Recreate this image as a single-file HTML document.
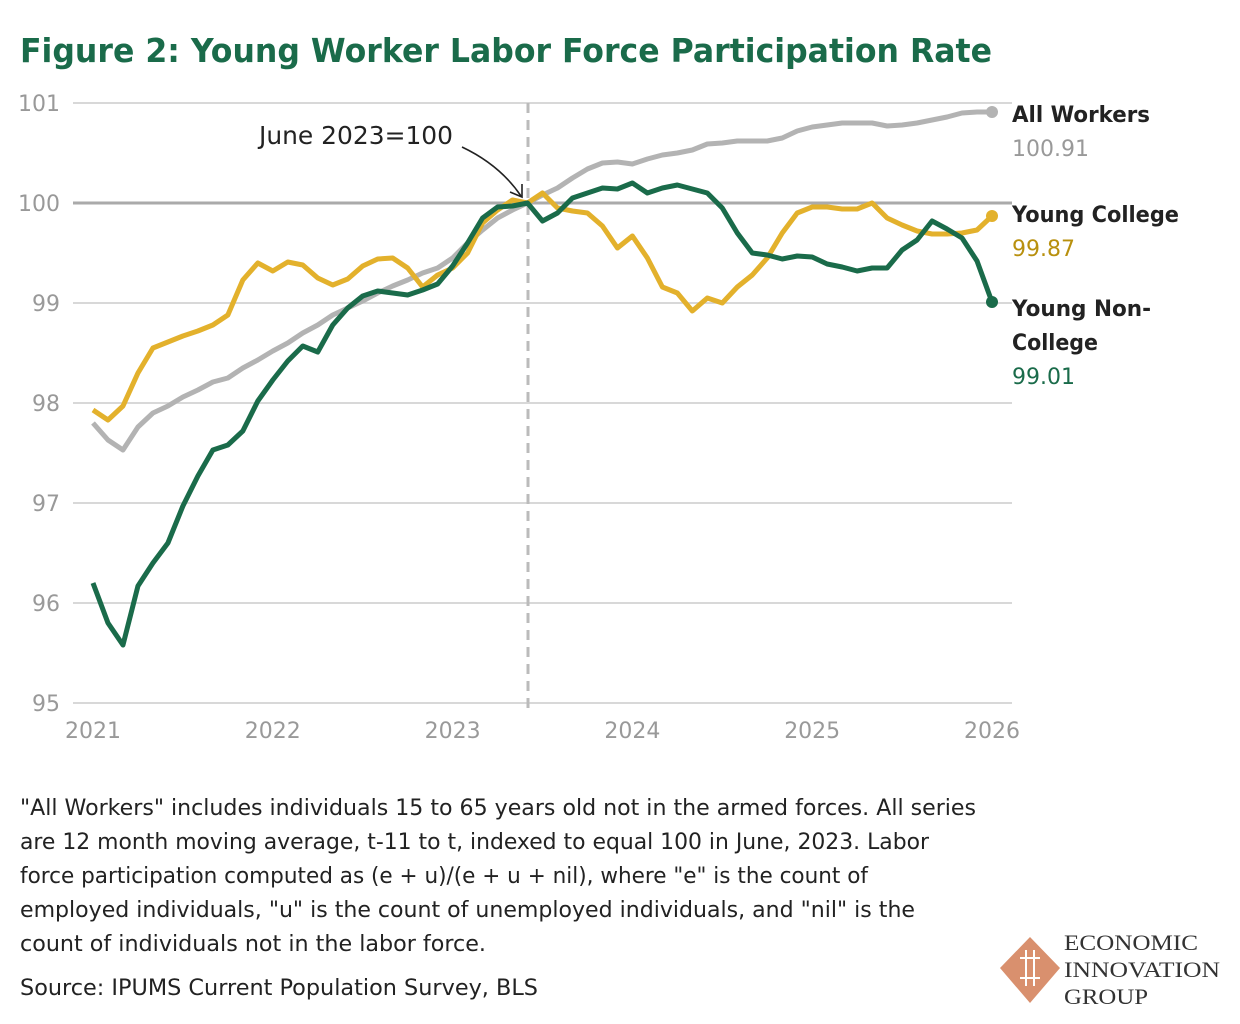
<!DOCTYPE html>
<html><head><meta charset="utf-8"><style>
body{margin:0;background:#fff}
svg{display:block;font-family:"DejaVu Sans","Liberation Sans",sans-serif}
</style></head><body>
<svg id="chart" width="1240" height="1024" viewBox="0 0 1240 1024" xmlns="http://www.w3.org/2000/svg">
<text x="20" y="62" font-size="33" font-weight="bold" fill="#1a6b4a" textLength="972" lengthAdjust="spacingAndGlyphs">Figure 2: Young Worker Labor Force Participation Rate</text>
<g id="grid"></g>
<g id="yticks"></g>
<g id="xticks"></g>
<line x1="528" y1="103" x2="528" y2="708" stroke="#bbb" stroke-width="3" stroke-dasharray="10,7"/>
<g id="series"></g>
<text x="259" y="144" font-size="25" fill="#222" textLength="194" lengthAdjust="spacingAndGlyphs">June 2023=100</text>
<path d="M462 147 Q500 165 521 196" fill="none" stroke="#222" stroke-width="1.6"/>
<path d="M510 192 L522 197 L522 184" fill="none" stroke="#222" stroke-width="1.6"/>
<g font-size="22">
<text x="1012" y="122" font-weight="bold" fill="#222" textLength="138" lengthAdjust="spacingAndGlyphs">All Workers</text>
<text x="1012" y="156" fill="#999">100.91</text>
<text x="1012" y="222" font-weight="bold" fill="#222" textLength="167" lengthAdjust="spacingAndGlyphs">Young College</text>
<text x="1012" y="256" fill="#b8900e">99.87</text>
<text x="1012" y="316" font-weight="bold" fill="#222" textLength="139" lengthAdjust="spacingAndGlyphs">Young Non-</text>
<text x="1012" y="350" font-weight="bold" fill="#222" textLength="86" lengthAdjust="spacingAndGlyphs">College</text>
<text x="1012" y="384" fill="#1a6b4a">99.01</text>
</g>
<g font-size="22" fill="#222">
<text x="20" y="815" textLength="956" lengthAdjust="spacingAndGlyphs">"All Workers" includes individuals 15 to 65 years old not in the armed forces. All series</text>
<text x="20" y="849" textLength="909" lengthAdjust="spacingAndGlyphs">are 12 month moving average, t-11 to t, indexed to equal 100 in June, 2023. Labor</text>
<text x="20" y="883" textLength="848" lengthAdjust="spacingAndGlyphs">force participation computed as (e + u)/(e + u + nil), where "e" is the count of</text>
<text x="20" y="917" textLength="895" lengthAdjust="spacingAndGlyphs">employed individuals, "u" is the count of unemployed individuals, and "nil" is the</text>
<text x="20" y="951" textLength="466" lengthAdjust="spacingAndGlyphs">count of individuals not in the labor force.</text>
<text x="20" y="995" textLength="518" lengthAdjust="spacingAndGlyphs">Source: IPUMS Current Population Survey, BLS</text>
</g>
<g>
<path d="M1030 937 L1060 968 L1030 1003 L1000 968 Z" fill="#d9906e"/>
<path d="M1020 958 L1040 958 M1020 978 L1040 978 M1026 950 L1026 986 M1034 950 L1034 986" stroke="#fff" stroke-width="2" fill="none"/>
<g font-family="'Liberation Serif',serif" font-size="22" fill="#333">
<text x="1064" y="950" textLength="134" lengthAdjust="spacingAndGlyphs">ECONOMIC</text>
<text x="1064" y="977" textLength="156" lengthAdjust="spacingAndGlyphs">INNOVATION</text>
<text x="1064" y="1004" textLength="84" lengthAdjust="spacingAndGlyphs">GROUP</text>
</g></g>
<script>
const yTicks=[95,96,97,98,99,100,101];
const xTickLabels=["2021","2022","2023","2024","2025","2026"];
const allWorkers=[97.8,97.63,97.53,97.76,97.9,97.97,98.06,98.13,98.21,98.25,98.35,98.43,98.52,98.6,98.7,98.78,98.88,98.95,99.02,99.1,99.17,99.23,99.3,99.35,99.45,99.6,99.73,99.85,99.93,100.0,100.08,100.15,100.25,100.34,100.4,100.41,100.39,100.44,100.48,100.5,100.53,100.59,100.6,100.62,100.62,100.62,100.65,100.72,100.76,100.78,100.8,100.8,100.8,100.77,100.78,100.8,100.83,100.86,100.9,100.91,100.91];
const youngCollege=[97.93,97.83,97.97,98.3,98.55,98.61,98.67,98.72,98.78,98.88,99.23,99.4,99.32,99.41,99.38,99.25,99.18,99.24,99.37,99.44,99.45,99.35,99.16,99.28,99.35,99.5,99.8,99.93,100.03,100.0,100.1,99.95,99.92,99.9,99.77,99.55,99.67,99.45,99.16,99.1,98.92,99.05,99.0,99.16,99.28,99.45,99.7,99.9,99.96,99.96,99.94,99.94,100.0,99.85,99.78,99.72,99.69,99.69,99.7,99.73,99.87];
const youngNonCollege=[96.2,95.8,95.58,96.17,96.4,96.6,96.97,97.27,97.53,97.58,97.72,98.02,98.23,98.42,98.57,98.51,98.78,98.95,99.07,99.12,99.1,99.08,99.13,99.19,99.37,99.6,99.85,99.96,99.97,100.0,99.82,99.9,100.05,100.1,100.15,100.14,100.2,100.1,100.15,100.18,100.14,100.1,99.95,99.7,99.5,99.48,99.44,99.47,99.46,99.39,99.36,99.32,99.35,99.35,99.53,99.63,99.82,99.74,99.65,99.42,99.01];
const NS="http://www.w3.org/2000/svg";
const X0=73,X1=1012;
function yScale(v){return 703-(v-95)*100;}
function xScale(i){return 93+i*899/60;}
function mk(tag,attrs,parent){const e=document.createElementNS(NS,tag);for(const k in attrs)e.setAttribute(k,attrs[k]);parent.appendChild(e);return e;}
const grid=document.getElementById('grid'),yt=document.getElementById('yticks'),xt=document.getElementById('xticks'),ser=document.getElementById('series');
yTicks.forEach(v=>{
  const l=mk('line',{x1:X0,x2:X1,y1:yScale(v),y2:yScale(v),stroke:v===100?'#aaa':'#ccc','stroke-width':v===100?3:1.5},grid);
  
  
  const t=mk('text',{x:60,y:yScale(v)+8,'text-anchor':'end','font-size':22,fill:'#999'},yt);
  t.textContent=v;
  
  
});
xTickLabels.forEach((s,k)=>{
  const t=mk('text',{x:xScale(k*12),y:738,'text-anchor':'middle','font-size':22,fill:'#999'},xt);
  t.textContent=s;
  
  
});
[[allWorkers,'#b3b3b3','all-workers'],[youngCollege,'#e3b12c','young-college'],[youngNonCollege,'#1a6b4a','young-noncollege']].forEach(([d,c,n])=>{
  const p=mk('polyline',{points:d.map((v,i)=>xScale(i)+','+yScale(v)).join(' '),fill:'none',stroke:c,'stroke-width':5,'stroke-linejoin':'round'},ser);
  
  
  const last=d.length-1;
  const dot=mk('circle',{cx:xScale(last),cy:yScale(d[last]),r:6,fill:c},ser);
  
  
});
</script>
</svg>
</body></html>
